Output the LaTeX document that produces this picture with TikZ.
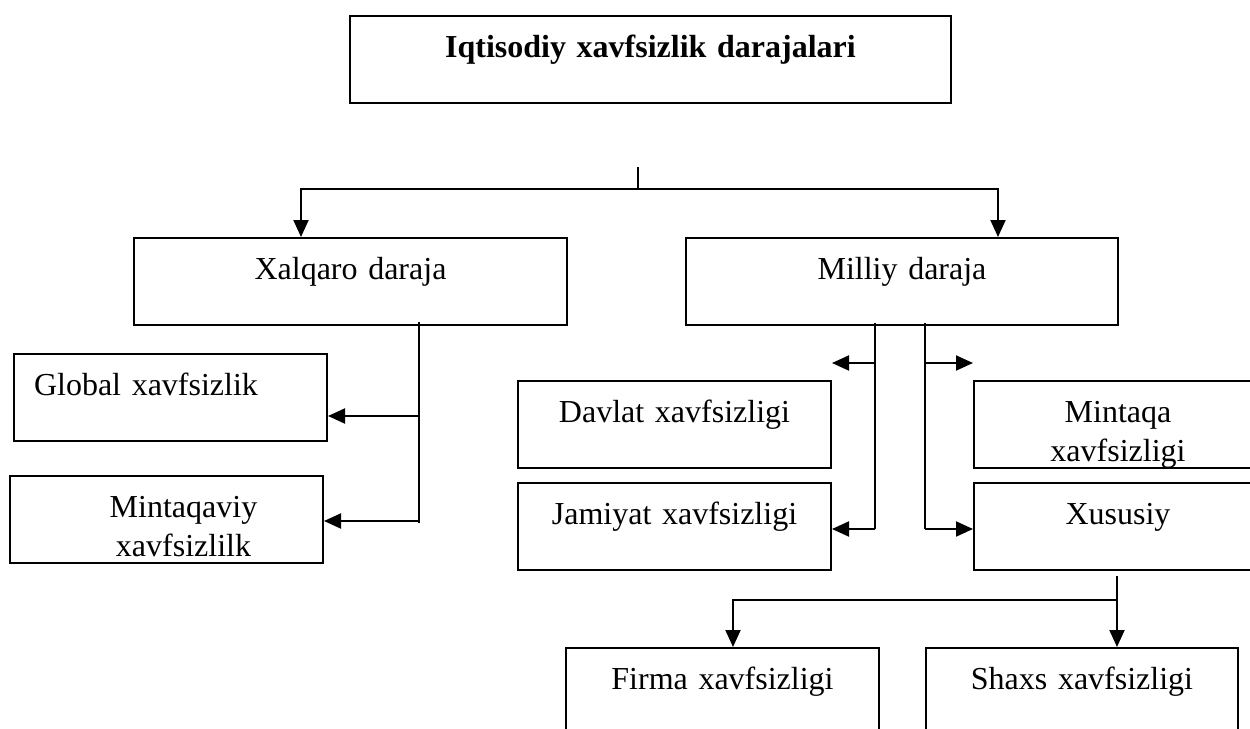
\documentclass[tikz,border=0pt]{standalone}
\usepackage{fontspec}
\setmainfont{Liberation Serif}
\usetikzlibrary{positioning,arrows.meta,calc}
\tikzset{
    box/.style={draw, line width=1pt, anchor=north west, inner xsep=0pt, inner ysep=0pt,
        align=center, text height=20.5pt, text depth=23pt},
    arr/.style={line width=1pt, -{Triangle[length=8.5pt,width=7.5pt]}},
    link/.style={line width=0.7pt}
}

\begin{document}
\begin{tikzpicture}[x=0.5pt,y=-0.5pt]
                \fontsize{16pt}{19.5pt}\selectfont
                \useasboundingbox (0,0) rectangle (1250,729);

                \node[box, text width=300.5pt] (top) at (349,15) {\textbf{Iqtisodiy xavfsizlik darajalari}};
                \node[box, text width=216.5pt] (xalqaro) at (133,237) {Xalqaro daraja};
                \node[box, text width=216pt] (milliy) at (685,237) {Milliy daraja};

                \node[box, align=left, inner xsep=10pt, text width=136.5pt] (global) at (13,353) {Global xavfsizlik};
                \node[box, text width=156.5pt] (mintaqaviy) at (9,475) {\hspace*{17pt}Mintaqaviy\\\hspace*{17pt}xavfsizlilk};

                \node[box, text width=156.5pt] (davlat) at (517,380) {Davlat xavfsizligi};
                \node[box, text width=156.5pt] (jamiyat) at (517,482) {Jamiyat xavfsizligi};
                \node[box, text width=144pt] (mintaqa) at (973,380) {Mintaqa\\xavfsizligi};
                \node[box, text width=144pt] (xususiy) at (973,482) {Xususiy};

                \node[box, text width=156.5pt] (firma) at (565,647) {Firma xavfsizligi};
                \node[box, text width=156pt] (shaxs) at (925,647) {Shaxs xavfsizligi};

                % top level split
                \coordinate (tstub) at (638,167);
                \coordinate (tsplit) at (638,189);
                \draw[link] (tstub) -- (tsplit);
                \foreach \x/\n in {301/xalqaro,998/milliy} {
                    \draw[arr] (tsplit) -| (\n.north -| \x,0);
                }

                % xalqaro daraja
                \coordinate (xtop) at (419,322);
                \coordinate (xbot) at (419,523);
                \draw[link] (xtop) -- (xbot);
                \foreach \y/\n in {416/global,521/mintaqaviy} {
                    \coordinate (b) at (419,\y);
                    \draw[arr] (b) -- (b -| \n.east);
                }

                % milliy daraja
                \coordinate (mleft) at (875,323);
                \coordinate (mright) at (925,323);
                \draw[link] (mleft) -- ++(0,206);
                \draw[link] (mright) -- ++(0,206);
                \foreach \y/\n in {363/davlat,529/jamiyat} {
                    \coordinate (b) at (875,\y);
                    \draw[arr] (b) -- (b -| \n.east);
                }
                \foreach \y/\n in {363/mintaqa,529/xususiy} {
                    \coordinate (b) at (925,\y);
                    \draw[arr] (b) -- (b -| \n.west);
                }

                % xususiy
                \coordinate (sstub) at (1117,576);
                \coordinate (ssplit) at (1117,600);
                \draw[link] (sstub) -- (ssplit);
                \draw[arr] (ssplit) -- (ssplit |- shaxs.north);
                \draw[arr] (ssplit) -| (firma.north -| 733,0);
            \end{tikzpicture}
\end{document}
